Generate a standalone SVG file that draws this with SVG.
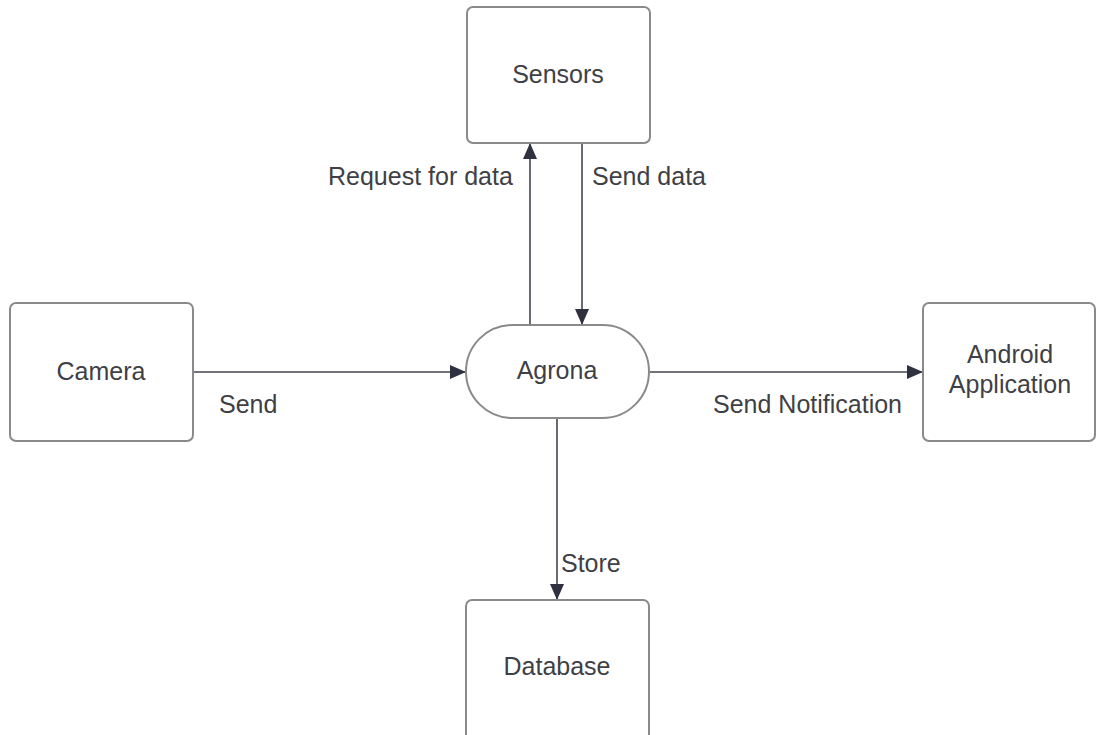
<svg xmlns="http://www.w3.org/2000/svg" width="1097" height="735" viewBox="0 0 1097 735">
  <style>
    .box { fill: #ffffff; stroke: #8a8a8a; stroke-width: 2; }
    .lbl { font-family: "Liberation Sans", Arial, sans-serif; font-size: 25px; fill: #3f3f46; }
    .mid { text-anchor: middle; }
    .edge { fill: none; stroke: #444450; stroke-width: 1.6; }
  </style>
  <defs>
    <marker id="arrow" viewBox="0 0 16 14" refX="15" refY="7" markerWidth="16" markerHeight="14" markerUnits="userSpaceOnUse" orient="auto">
      <path d="M0,0 L16,7 L0,14 Z" fill="#2f3140"/>
    </marker>
  </defs>
  <rect width="1097" height="735" fill="#ffffff"/>

  <g id="connectors">
    <line class="edge" x1="530" y1="325" x2="530" y2="144" marker-end="url(#arrow)"/>
    <line class="edge" x1="582" y1="143" x2="582" y2="324" marker-end="url(#arrow)"/>
    <line class="edge" x1="193" y1="372" x2="465" y2="372" marker-end="url(#arrow)"/>
    <line class="edge" x1="649" y1="372" x2="922" y2="372" marker-end="url(#arrow)"/>
    <line class="edge" x1="557" y1="418" x2="557" y2="599" marker-end="url(#arrow)"/>
    <text class="lbl" x="328" y="185">Request for data</text>
    <text class="lbl" x="592" y="185">Send data</text>
    <text class="lbl" x="219" y="413">Send</text>
    <text class="lbl" x="713" y="413">Send Notification</text>
    <text class="lbl" x="561" y="572">Store</text>
  </g>

  <g id="sensors">
    <rect class="box" x="467" y="7" width="183" height="136" rx="6"/>
    <text class="lbl mid" x="558" y="83">Sensors</text>
  </g>

  <g id="camera">
    <rect class="box" x="10" y="303" width="183" height="138" rx="6"/>
    <text class="lbl mid" x="101" y="380">Camera</text>
  </g>

  <g id="agrona">
    <rect class="box" x="466" y="325" width="183" height="93" rx="46.5"/>
    <text class="lbl mid" x="557" y="379">Agrona</text>
  </g>

  <g id="android-application">
    <rect class="box" x="923" y="303" width="172" height="138" rx="6"/>
    <text class="lbl mid" x="1010" y="363">Android</text>
    <text class="lbl mid" x="1010" y="393">Application</text>
  </g>

  <g id="database">
    <rect class="box" x="466" y="600" width="183" height="140" rx="6"/>
    <text class="lbl mid" x="557" y="675">Database</text>
  </g>
</svg>
